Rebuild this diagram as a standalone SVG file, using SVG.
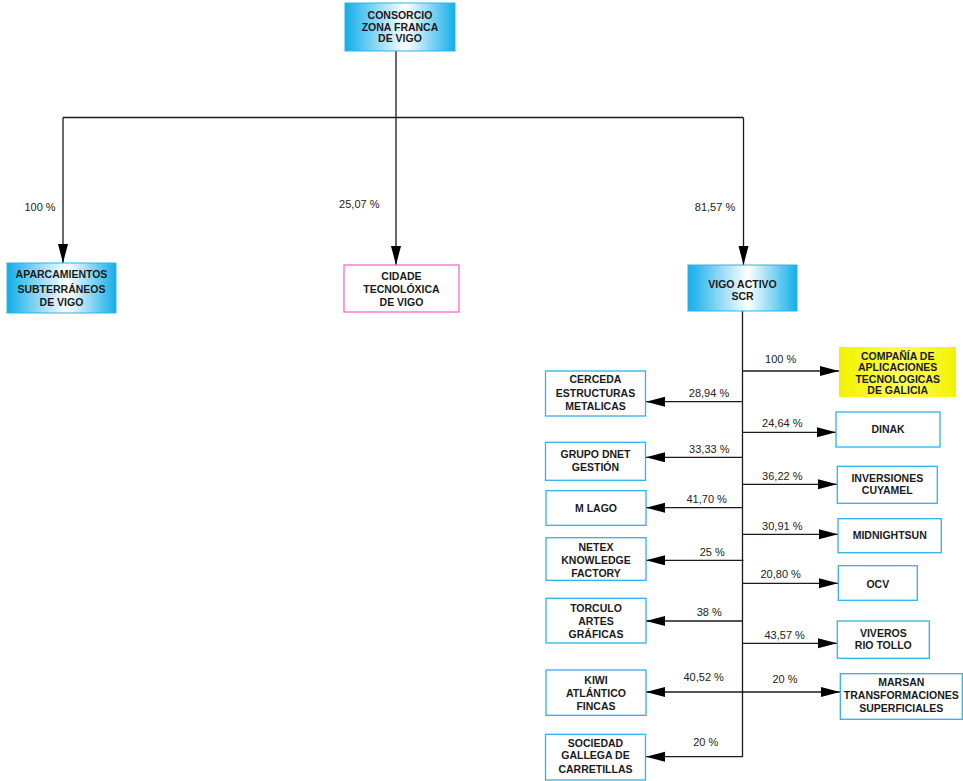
<svg xmlns="http://www.w3.org/2000/svg" width="963" height="781" viewBox="0 0 963 781">
<defs>
<linearGradient id="gBlue" x1="0" y1="0" x2="1" y2="0">
<stop offset="0" stop-color="#12aee9"/>
<stop offset="0.55" stop-color="#ffffff"/>
<stop offset="1" stop-color="#12aee9"/>
</linearGradient>
<linearGradient id="gYellow" x1="0" y1="0" x2="1" y2="0">
<stop offset="0" stop-color="#f2f200"/>
<stop offset="0.55" stop-color="#ffff55"/>
<stop offset="1" stop-color="#f2f200"/>
</linearGradient>
<marker id="arr" markerUnits="userSpaceOnUse" markerWidth="20" markerHeight="11" refX="19" refY="5" orient="auto">
<path d="M0,0 L19,5 L0,10 z" fill="#000"/>
</marker>
<style>
.blue{fill:url(#gBlue);stroke:#2db3ea;stroke-width:1}
.wbox{fill:#fff;stroke:#2db3ea;stroke-width:1.3}
.pink{fill:#fff;stroke:#ff66cc;stroke-width:1.3}
.yel{fill:url(#gYellow);stroke:none}
.t{font-family:"Liberation Sans",Arial,sans-serif;font-size:10.5px;font-weight:bold;fill:#1a1a1a;text-anchor:middle}
.p{font-family:"Liberation Sans",Arial,sans-serif;font-size:11px;fill:#222;text-anchor:middle}
.ln{fill:none;stroke:#1a1a1a;stroke-width:1.3}
.la{fill:none;stroke:#1a1a1a;stroke-width:1.3;marker-end:url(#arr)}
</style>
</defs>
<g id="connectors">
<path class="ln" d="M396,51 V117.5 M63,117.5 H743.5"/>
<path class="la" d="M63,117.5 V263"/>
<path class="la" d="M396,117.5 V265"/>
<path class="la" d="M743.5,117.5 V265"/>
<path class="ln" d="M742.5,311 V757"/>
<path class="la" d="M742.5,371 H839"/>
<path class="la" d="M742.5,401.7 H646"/>
<path class="la" d="M742.5,432.3 H836"/>
<path class="la" d="M742.5,457.3 H646"/>
<path class="la" d="M742.5,484.3 H837"/>
<path class="la" d="M742.5,507.7 H646"/>
<path class="la" d="M742.5,534.3 H838"/>
<path class="la" d="M743.5,560.3 H646"/>
<path class="la" d="M742.5,583.3 H838"/>
<path class="la" d="M742.5,621 H646"/>
<path class="la" d="M742.5,643.3 H837"/>
<path class="la" d="M742.5,692 H646"/>
<path class="la" d="M742.5,692 H840"/>
<path class="la" d="M742.5,756.7 H646"/>
<text class="p" x="40" y="211">100 %</text>
<text class="p" x="359.3" y="208.3">25,07 %</text>
<text class="p" x="715" y="211">81,57 %</text>
<text class="p" x="780.7" y="363">100 %</text>
<text class="p" x="709" y="396.7">28,94 %</text>
<text class="p" x="782.3" y="427.3">24,64 %</text>
<text class="p" x="709.3" y="452.7">33,33 %</text>
<text class="p" x="782.3" y="480">36,22 %</text>
<text class="p" x="706.7" y="503.3">41,70 %</text>
<text class="p" x="782.3" y="530">30,91 %</text>
<text class="p" x="712.3" y="556">25 %</text>
<text class="p" x="780.7" y="578.3">20,80 %</text>
<text class="p" x="709.3" y="616">38 %</text>
<text class="p" x="784.7" y="639">43,57 %</text>
<text class="p" x="703.7" y="681">40,52 %</text>
<text class="p" x="785" y="683.3">20 %</text>
<text class="p" x="705.7" y="746">20 %</text>
</g>
<g id="consorcio">
<rect class="blue" x="345" y="3" width="110" height="48"/>
<text class="t" x="400" y="18.7">CONSORCIO</text>
<text class="t" x="400" y="30.5">ZONA FRANCA</text>
<text class="t" x="400" y="42.3">DE VIGO</text>
</g>
<g id="aparcamientos">
<rect class="blue" x="7" y="263" width="109" height="50"/>
<text class="t" x="61.5" y="278.3">APARCAMIENTOS</text>
<text class="t" x="61.5" y="292.5">SUBTERRÁNEOS</text>
<text class="t" x="61.5" y="306">DE VIGO</text>
</g>
<g id="cidade">
<rect class="pink" x="344" y="265" width="115" height="47"/>
<text class="t" x="401.5" y="279.7">CIDADE</text>
<text class="t" x="401.5" y="293">TECNOLÓXICA</text>
<text class="t" x="401.5" y="306">DE  VIGO</text>
</g>
<g id="vigoactivo">
<rect class="blue" x="688" y="265" width="109" height="46"/>
<text class="t" x="742.5" y="287.7">VIGO ACTIVO</text>
<text class="t" x="742.5" y="299.5">SCR</text>
</g>
<g id="compania">
<rect class="yel" x="839" y="347" width="117" height="50"/>
<text class="t" x="897.7" y="360">COMPAÑÍA DE</text>
<text class="t" x="897.7" y="371.3">APLICACIONES</text>
<text class="t" x="897.7" y="382.6">TECNOLOGICAS</text>
<text class="t" x="897.7" y="393.9">DE GALICIA</text>
</g>
<g id="cerceda">
<rect class="wbox" x="545.5" y="371" width="100" height="45"/>
<text class="t" x="595.5" y="383.3">CERCEDA</text>
<text class="t" x="595.5" y="396.5">ESTRUCTURAS</text>
<text class="t" x="595.5" y="409.5">METALICAS</text>
</g>
<g id="dinak">
<rect class="wbox" x="836" y="412" width="104" height="35"/>
<text class="t" x="888" y="433.3">DINAK</text>
</g>
<g id="grupodnet">
<rect class="wbox" x="545.5" y="442.3" width="100" height="38"/>
<text class="t" x="595.5" y="458.3">GRUPO DNET</text>
<text class="t" x="595.5" y="471.3">GESTIÓN</text>
</g>
<g id="inversiones">
<rect class="wbox" x="837.3" y="466.3" width="100" height="37"/>
<text class="t" x="887.3" y="481.7">INVERSIONES</text>
<text class="t" x="887.3" y="493.5">CUYAMEL</text>
</g>
<g id="mlago">
<rect class="wbox" x="546" y="490.7" width="100" height="34.6"/>
<text class="t" x="596" y="511.7">M LAGO</text>
</g>
<g id="midnightsun">
<rect class="wbox" x="838" y="518.7" width="103.3" height="34"/>
<text class="t" x="889.7" y="539">MIDNIGHTSUN</text>
</g>
<g id="netex">
<rect class="wbox" x="546" y="537.7" width="100" height="42.6"/>
<text class="t" x="596" y="550.7">NETEX</text>
<text class="t" x="596" y="563.5">KNOWLEDGE</text>
<text class="t" x="596" y="576.7">FACTORY</text>
</g>
<g id="ocv">
<rect class="wbox" x="838.3" y="565.7" width="79" height="34.6"/>
<text class="t" x="877.8" y="587.7">OCV</text>
</g>
<g id="torculo">
<rect class="wbox" x="546" y="598.3" width="100" height="44.7"/>
<text class="t" x="596" y="611.7">TORCULO</text>
<text class="t" x="596" y="624.5">ARTES</text>
<text class="t" x="596" y="637.7">GRÁFICAS</text>
</g>
<g id="viveros">
<rect class="wbox" x="837.3" y="621" width="92" height="37.3"/>
<text class="t" x="883.3" y="636.7">VIVEROS</text>
<text class="t" x="883.3" y="649.3">RIO TOLLO</text>
</g>
<g id="kiwi">
<rect class="wbox" x="546" y="670" width="100" height="45.3"/>
<text class="t" x="596" y="684.3">KIWI</text>
<text class="t" x="596" y="697.3">ATLÁNTICO</text>
<text class="t" x="596" y="710">FINCAS</text>
</g>
<g id="marsan">
<rect class="wbox" x="840.3" y="673.7" width="122" height="45.6"/>
<text class="t" x="901.3" y="686">MARSAN</text>
<text class="t" x="901.3" y="699">TRANSFORMACIONES</text>
<text class="t" x="901.3" y="712.3">SUPERFICIALES</text>
</g>
<g id="sociedad">
<rect class="wbox" x="545.5" y="734.3" width="100" height="45.7"/>
<text class="t" x="595.5" y="746.7">SOCIEDAD</text>
<text class="t" x="595.5" y="759.3">GALLEGA DE</text>
<text class="t" x="595.5" y="772.7">CARRETILLAS</text>
</g>
</svg>
